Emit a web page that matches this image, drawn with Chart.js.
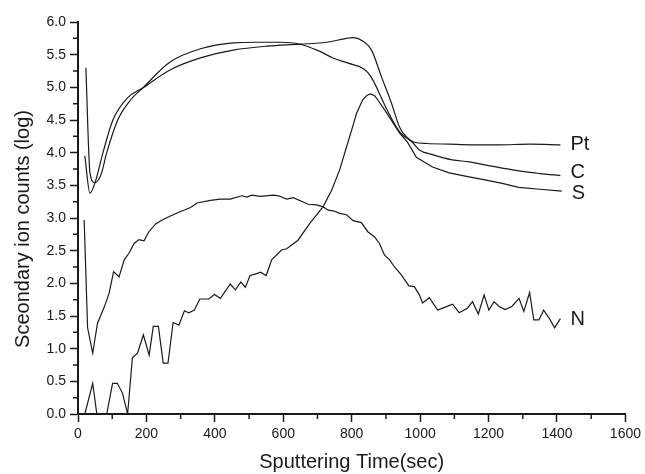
<!DOCTYPE html>
<html>
<head>
<meta charset="utf-8">
<script src="https://cdn.jsdelivr.net/npm/chart.js@4.4.0/dist/chart.umd.min.js"></script>
<style>
  body { margin: 0; background: #fff; }
  canvas { display: block; }
</style>
</head>
<body>
<canvas id="sputterChart" width="645" height="474"></canvas>
<script>
// sputtering time (sec) and log counts per element
const ptTime = [20, 35, 52, 73, 102, 145, 189, 270, 358, 454, 552, 649, 727, 785, 803, 832, 858, 887, 916, 940, 960, 983, 1020, 1085, 1150, 1230, 1320, 1410];
const ptValues = [3.95, 3.38, 3.58, 4.00, 4.50, 4.84, 4.99, 5.27, 5.45, 5.57, 5.63, 5.66, 5.69, 5.75, 5.76, 5.71, 5.57, 5.16, 4.76, 4.39, 4.24, 4.16, 4.14, 4.13, 4.12, 4.12, 4.13, 4.12];

const cTime = [23, 35, 49, 67, 84, 116, 154, 189, 270, 358, 454, 523, 591, 649, 707, 745, 790, 833, 848, 862, 901, 940, 977, 998, 1036, 1094, 1143, 1193, 1288, 1350, 1410];
const cValues = [5.30, 3.69, 3.54, 3.66, 4.00, 4.50, 4.81, 4.99, 5.39, 5.59, 5.68, 5.69, 5.69, 5.66, 5.55, 5.45, 5.37, 5.29, 5.22, 5.11, 4.68, 4.32, 4.16, 4.04, 3.97, 3.89, 3.86, 3.81, 3.72, 3.68, 3.65];

const sTime = [20, 43, 55, 84, 101, 115, 130, 145, 159, 174, 191, 208, 220, 235, 249, 263, 278, 295, 311, 324, 340, 356, 382, 399, 416, 445, 460, 476, 489, 503, 518, 534, 550, 566, 595, 610, 643, 678, 716, 741, 765, 785, 800, 814, 832, 845, 855, 867, 876, 902, 940, 963, 989, 1036, 1085, 1143, 1193, 1240, 1288, 1350, 1414];
const sValues = [0, 0.47, 0, 0, 0.47, 0.47, 0.32, 0, 0.86, 0.93, 1.21, 0.90, 1.34, 1.34, 0.78, 0.78, 1.40, 1.36, 1.58, 1.55, 1.59, 1.76, 1.76, 1.83, 1.77, 1.99, 1.90, 2.02, 1.94, 2.12, 2.14, 2.17, 2.12, 2.36, 2.51, 2.53, 2.66, 2.92, 3.17, 3.42, 3.74, 4.09, 4.35, 4.60, 4.81, 4.88, 4.90, 4.87, 4.81, 4.61, 4.30, 4.16, 3.93, 3.78, 3.69, 3.63, 3.58, 3.53, 3.47, 3.44, 3.41];

const nTime = [18, 28, 43, 57, 77, 91, 104, 120, 135, 149, 164, 178, 193, 207, 227, 246, 270, 300, 329, 348, 387, 416, 445, 479, 494, 508, 532, 571, 586, 610, 629, 673, 697, 717, 731, 746, 765, 785, 804, 828, 847, 867, 881, 896, 911, 925, 945, 967, 983, 998, 1007, 1027, 1051, 1075, 1095, 1114, 1138, 1153, 1170, 1187, 1201, 1216, 1230, 1248, 1269, 1289, 1303, 1320, 1332, 1347, 1361, 1378, 1393, 1410];
const nValues = [2.97, 1.32, 0.93, 1.39, 1.64, 1.85, 2.18, 2.10, 2.36, 2.46, 2.61, 2.67, 2.65, 2.79, 2.91, 2.97, 3.03, 3.10, 3.16, 3.23, 3.27, 3.29, 3.29, 3.34, 3.32, 3.35, 3.33, 3.35, 3.34, 3.29, 3.31, 3.21, 3.20, 3.17, 3.12, 3.11, 3.07, 3.05, 2.96, 2.93, 2.79, 2.71, 2.61, 2.43, 2.36, 2.25, 2.13, 1.96, 1.95, 1.82, 1.70, 1.78, 1.59, 1.64, 1.68, 1.55, 1.62, 1.72, 1.53, 1.82, 1.59, 1.72, 1.65, 1.60, 1.65, 1.77, 1.57, 1.86, 1.44, 1.44, 1.59, 1.46, 1.32, 1.46];

const seriesNames = ['Pt', 'C', 'S', 'N'];
// log level where each name sits next to its line end
const nameLevels = [4.12, 3.70, 3.38, 1.45];
const xTitle = 'Sputtering Time(sec)';
const yTitle = 'Sceondary ion counts (log)';

const FONT = '"Liberation Sans", Arial, sans-serif';
const INK = '#1a1a1a';

function toPoints(xs, ys) {
    return xs.map((x, i) => ({ x: x, y: ys[i] }));
}

function makeSet(label, xs, ys, smooth) {
    return {
        label: label,
        data: toPoints(xs, ys),
        borderColor: INK,
        borderWidth: 1.2,
        pointRadius: 0,
        fill: false,
        cubicInterpolationMode: smooth ? 'monotone' : 'default',
        tension: 0
    };
}

// short minor ticks between the labelled ones
const minorTicks = {
    id: 'minorTicks',
    afterDraw(chart) {
        const { ctx, scales: { x, y } } = chart;
        ctx.save();
        ctx.strokeStyle = INK;
        ctx.lineWidth = 1.5;
        ctx.beginPath();
        for (let v = 100; v < 1600; v += 200) {
            const px = x.getPixelForValue(v);
            ctx.moveTo(px, x.top);
            ctx.lineTo(px, x.top + 5);
        }
        for (let v = 0.25; v < 6; v += 0.5) {
            const py = y.getPixelForValue(v);
            ctx.moveTo(y.right, py);
            ctx.lineTo(y.right - 5, py);
        }
        ctx.stroke();
        ctx.restore();
    }
};

// element names at line ends, and the y title
const textLabels = {
    id: 'textLabels',
    afterDraw(chart) {
        const { ctx, scales: { x, y } } = chart;
        ctx.save();
        ctx.fillStyle = INK;
        ctx.font = '20px ' + FONT;
        ctx.textBaseline = 'middle';
        ctx.textAlign = 'left';
        chart.data.datasets.forEach((ds, i) => {
            const last = ds.data[ds.data.length - 1];
            ctx.fillText(ds.label, x.getPixelForValue(last.x) + 10, y.getPixelForValue(nameLevels[i]));
        });
        ctx.translate(23, 229);
        ctx.rotate(-Math.PI / 2);
        ctx.textAlign = 'center';
        ctx.fillText(yTitle, 0, 0);
        ctx.restore();
    }
};

const ctx = document.getElementById('sputterChart').getContext('2d');
const chart = new Chart(ctx, {
    type: 'line',
    data: {
        datasets: [
            makeSet(seriesNames[0], ptTime, ptValues, true),
            makeSet(seriesNames[1], cTime, cValues, true),
            makeSet(seriesNames[2], sTime, sValues, false),
            makeSet(seriesNames[3], nTime, nValues, false)
        ]
    },
    options: {
        responsive: false,
        animation: false,
        layout: { padding: { top: 22, right: 18, left: 0, bottom: 0 } },
        plugins: {
            legend: { display: false },
            tooltip: { enabled: false }
        },
        scales: {
            x: {
                type: 'linear',
                min: 0,
                max: 1600,
                ticks: {
                    stepSize: 200,
                    color: INK,
                    padding: 4,
                    font: { family: FONT, size: 14 },
                    callback: v => String(v)
                },
                grid: { drawOnChartArea: false, tickLength: 8, tickColor: INK, tickWidth: 1.5 },
                border: { color: INK, width: 2 },
                title: {
                    display: true,
                    text: xTitle,
                    color: INK,
                    font: { family: FONT, size: 20 },
                    padding: { top: 0, bottom: 0 }
                },
                afterFit(scale) { scale.height = 60; }
            },
            y: {
                min: 0,
                max: 6,
                ticks: {
                    stepSize: 0.5,
                    color: INK,
                    padding: 4,
                    font: { family: FONT, size: 14 },
                    callback: v => v.toFixed(1)
                },
                grid: { drawOnChartArea: false, tickLength: 8, tickColor: INK, tickWidth: 1.5 },
                border: { color: INK, width: 2 },
                afterFit(scale) { scale.width = 78; }
            }
        }
    },
    plugins: [minorTicks, textLabels]
});
</script>
</body>
</html>
